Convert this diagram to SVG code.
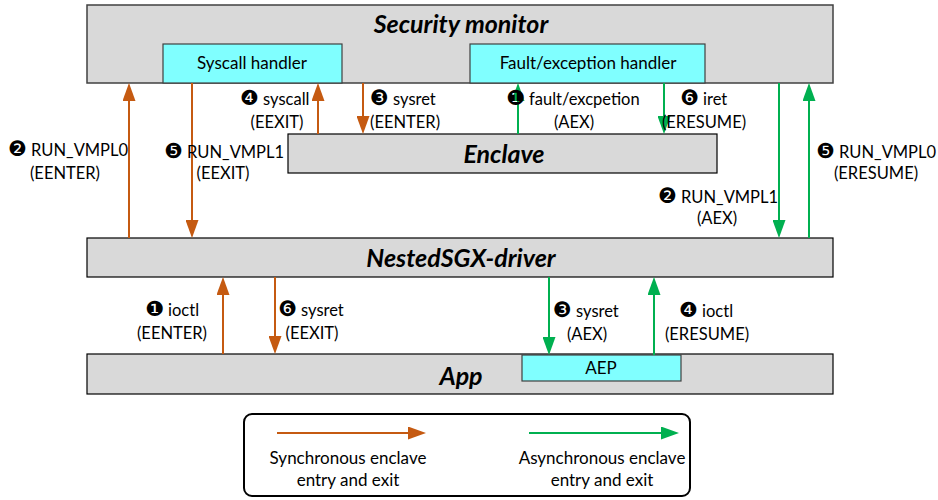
<svg xmlns="http://www.w3.org/2000/svg" width="938" height="500" viewBox="0 0 938 500">
<style>
.box{fill:#d9d9d9;stroke:#000;stroke-width:1.2}
.sm{fill:#d9d9d9;stroke:#404040;stroke-width:1.5}
.hb{fill:#80ffff;stroke:#404040;stroke-width:1.2}
.title{font-family:Lato,"Liberation Sans",sans-serif;font-weight:bold;font-style:italic;font-size:25px;fill:#000;text-anchor:middle}
.ht{font-family:Lato,"Liberation Sans",sans-serif;font-size:17px;fill:#000;text-anchor:middle}
.lb{font-family:Lato,"Liberation Sans",sans-serif;font-size:16.5px;fill:#000}
.lg{font-family:Lato,"Liberation Sans",sans-serif;font-size:17px;fill:#000;text-anchor:middle}
.c{text-anchor:middle}
.num{font-family:"DejaVu Sans",sans-serif;font-size:21px}
.o{stroke:#c55a11;stroke-width:2;fill:none;marker-end:url(#ao)}
.g{stroke:#00b050;stroke-width:2;fill:none;marker-end:url(#ag)}
</style>
<defs>
<marker id="ao" viewBox="0 0 18 13" refX="14" refY="6.5" markerWidth="18" markerHeight="13" markerUnits="userSpaceOnUse" orient="auto"><path d="M0,0 L18,6.5 L0,13 z" fill="#c55a11"/></marker>
<marker id="ag" viewBox="0 0 18 13" refX="14" refY="6.5" markerWidth="18" markerHeight="13" markerUnits="userSpaceOnUse" orient="auto"><path d="M0,0 L18,6.5 L0,13 z" fill="#00b050"/></marker>
</defs>
<rect width="938" height="500" fill="#fff"/>
<g id="security-monitor">
<rect class="sm" x="87" y="5" width="746" height="78"/>
<text class="title" x="461" y="33">Security monitor</text>
</g>
<g id="syscall-handler">
<rect class="hb" x="163" y="44" width="179" height="39"/>
<text class="ht" x="252" y="69">Syscall handler</text>
</g>
<g id="fault-handler">
<rect class="hb" x="470" y="44" width="235" height="39"/>
<text class="ht" x="588" y="69">Fault/exception handler</text>
</g>
<g id="enclave">
<rect class="box" x="288" y="134" width="429" height="39"/>
<text class="title" x="504" y="163">Enclave</text>
</g>
<g id="driver">
<rect class="box" x="87" y="238" width="746" height="39"/>
<text class="title" x="461" y="267">NestedSGX-driver</text>
</g>
<g id="app">
<rect class="box" x="87" y="354" width="746" height="40"/>
<text class="title" x="461" y="385">App</text>
</g>
<g id="aep">
<rect class="hb" x="522" y="355" width="159" height="26"/>
<text class="ht" x="601" y="374">AEP</text>
</g>
<g id="connectors">
<line class="o" x1="129" y1="238" x2="129" y2="87"/>
<line class="o" x1="192" y1="83" x2="192" y2="234"/>
<line class="o" x1="318" y1="134" x2="318" y2="87"/>
<line class="o" x1="363" y1="83" x2="363" y2="130"/>
<line class="g" x1="518" y1="134" x2="518" y2="87"/>
<line class="g" x1="664" y1="83" x2="664" y2="130"/>
<line class="g" x1="779" y1="83" x2="779" y2="234"/>
<line class="g" x1="809" y1="238" x2="809" y2="87"/>
<line class="o" x1="223" y1="354" x2="223" y2="281"/>
<line class="o" x1="275" y1="277" x2="275" y2="350"/>
<line class="g" x1="549" y1="277" x2="549" y2="351"/>
<line class="g" x1="654" y1="355" x2="654" y2="281"/>
</g>
<g id="labels">
<text class="lb" x="8" y="156"><tspan class="num">❷</tspan> RUN_VMPL0</text>
<text class="lb c" x="65" y="179">(EENTER)</text>
<text class="lb" x="164" y="158"><tspan class="num">❺</tspan> RUN_VMPL1</text>
<text class="lb c" x="223" y="179">(EEXIT)</text>
<text class="lb" x="240" y="105"><tspan class="num">❹</tspan> syscall</text>
<text class="lb c" x="277" y="128">(EEXIT)</text>
<text class="lb" x="370" y="105"><tspan class="num">❸</tspan> sysret</text>
<text class="lb" x="370" y="128">(EENTER)</text>
<text class="lb" x="506" y="105"><tspan class="num">❶</tspan> fault/excpetion</text>
<text class="lb c" x="574" y="128">(AEX)</text>
<text class="lb" x="680" y="105"><tspan class="num">❻</tspan> iret</text>
<text class="lb c" x="704" y="128">(ERESUME)</text>
<text class="lb" x="658" y="203"><tspan class="num">❷</tspan> RUN_VMPL1</text>
<text class="lb c" x="717" y="224">(AEX)</text>
<text class="lb" x="816" y="158"><tspan class="num">❺</tspan> RUN_VMPL0</text>
<text class="lb c" x="876" y="179">(ERESUME)</text>
<text class="lb" x="145" y="316"><tspan class="num">❶</tspan> ioctl</text>
<text class="lb c" x="172" y="339">(EENTER)</text>
<text class="lb" x="278" y="316"><tspan class="num">❻</tspan> sysret</text>
<text class="lb c" x="312" y="339">(EEXIT)</text>
<text class="lb" x="553" y="317"><tspan class="num">❸</tspan> sysret</text>
<text class="lb c" x="587" y="340">(AEX)</text>
<text class="lb" x="679" y="317"><tspan class="num">❹</tspan> ioctl</text>
<text class="lb c" x="707" y="340">(ERESUME)</text>
</g>
<g id="legend">
<rect x="244" y="414" width="446" height="82" rx="8" fill="#fff" stroke="#000" stroke-width="2"/>
<line class="o" x1="277" y1="433" x2="422" y2="433"/>
<line class="g" x1="529" y1="433" x2="675" y2="433"/>
<text class="lg" x="348" y="464">Synchronous enclave</text>
<text class="lg" x="348" y="486">entry and exit</text>
<text class="lg" x="602" y="464">Asynchronous enclave</text>
<text class="lg" x="602" y="486">entry and exit</text>
</g>
</svg>
